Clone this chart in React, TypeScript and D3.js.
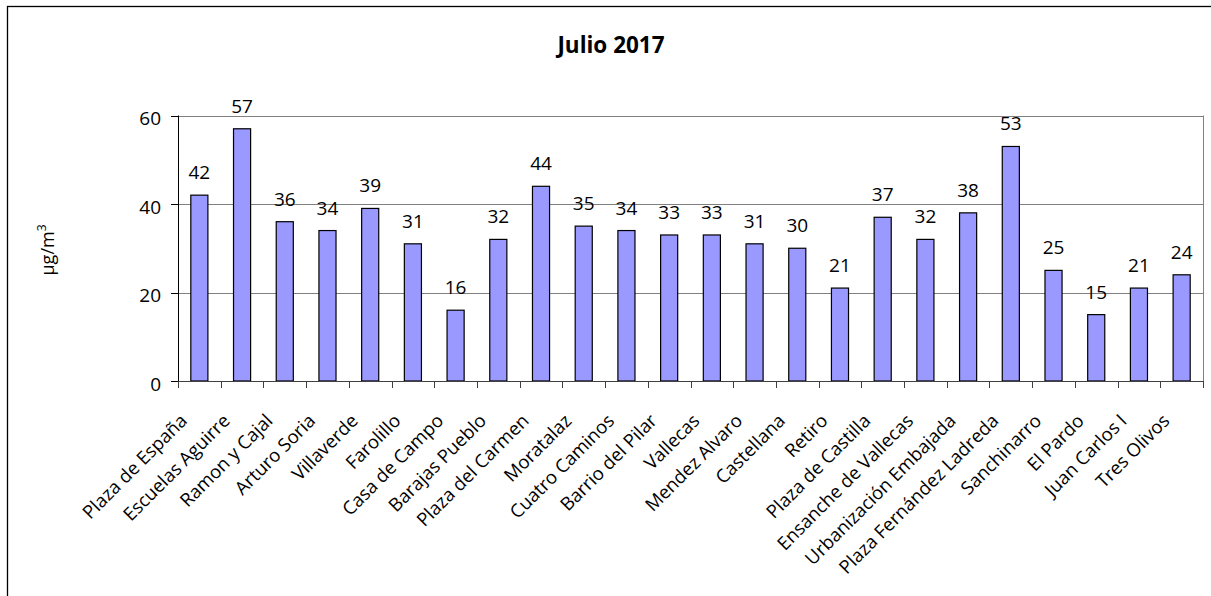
import { useEffect, useRef } from "react";
import * as d3 from "d3";

const estaciones = [
    "Plaza de España", "Escuelas Aguirre", "Ramon y Cajal", "Arturo Soria", "Villaverde",
    "Farolillo", "Casa de Campo", "Barajas Pueblo", "Plaza del Carmen", "Moratalaz",
    "Cuatro Caminos", "Barrio del Pilar", "Vallecas", "Mendez Alvaro", "Castellana",
    "Retiro", "Plaza de Castilla", "Ensanche de Vallecas", "Urbanización Embajada",
    "Plaza Fernández Ladreda", "Sanchinarro", "El Pardo", "Juan Carlos I", "Tres Olivos",
];
const valores = [42, 57, 36, 34, 39, 31, 16, 32, 44, 35, 34, 33, 33, 31, 30, 21, 37, 32, 38, 53, 25, 15, 21, 24];
const yTicks = [0, 20, 40, 60];
const titulo = "Julio 2017";

const W = 1211;
const H = 596;
const FONT = "'Open Sans', sans-serif";

export default function App() {
    const svgEl = useRef<SVGSVGElement>(null);

    useEffect(() => {
        const svg = d3.select(svgEl.current);
        svg.selectChildren().remove();

        const left = 178, right = 1203, top = 115.5, bottom = 381;

        const x = d3.scaleBand<string>()
            .domain(estaciones)
            .range([left, right])
            .paddingInner(0.6)
            .paddingOuter(0.3);
        const y = d3.scaleLinear().domain([0, 60]).range([bottom, top]);
        const step = x.step();

        // outer frame
        svg.append('rect')
            .attr('x', 7.5).attr('y', 6.5)
            .attr('width', W).attr('height', H)
            .attr('fill', 'white').attr('stroke', 'black').attr('stroke-width', 1.3);

        svg.append('text')
            .attr('x', 611).attr('y', 53)
            .attr('text-anchor', 'middle')
            .attr('font-family', FONT).attr('font-size', 22.5).attr('font-weight', 'bold')
            .text(titulo);

        // gridlines
        svg.append('g').selectAll('line').data(yTicks.filter(d => d > 0)).join('line')
            .attr('x1', left).attr('x2', right)
            .attr('y1', d => Math.round(y(d)) + 0.5).attr('y2', d => Math.round(y(d)) + 0.5)
            .attr('stroke', '#808080').attr('stroke-width', 1);
        // right border of plot
        svg.append('line')
            .attr('x1', right + 0.5).attr('x2', right + 0.5).attr('y1', top).attr('y2', bottom)
            .attr('stroke', '#808080');

        // bars
        svg.append('g').selectAll('rect').data(valores).join('rect')
            .attr('x', (_, i) => x(estaciones[i])!)
            .attr('y', d => y(d))
            .attr('width', x.bandwidth())
            .attr('height', d => bottom - y(d))
            .attr('fill', '#9999FF').attr('stroke', 'black').attr('stroke-width', 1.2);

        // value labels
        svg.append('g').selectAll('text').data(valores).join('text')
            .attr('x', (_, i) => x(estaciones[i])! + x.bandwidth() / 2)
            .attr('y', d => y(d) - 16)
            .attr('text-anchor', 'middle')
            .attr('font-family', FONT).attr('font-size', 19)
            .text(d => d);

        // y axis
        svg.append('line')
            .attr('x1', left + 0.5).attr('x2', left + 0.5).attr('y1', top).attr('y2', bottom)
            .attr('stroke', 'black');
        svg.append('g').selectAll('line').data(yTicks).join('line')
            .attr('x1', left - 7).attr('x2', left)
            .attr('y1', d => Math.round(y(d)) + 0.5).attr('y2', d => Math.round(y(d)) + 0.5)
            .attr('stroke', 'black');
        svg.append('g').selectAll('text').data(yTicks).join('text')
            .attr('x', 161).attr('y', d => y(d) + 9.5)
            .attr('text-anchor', 'end')
            .attr('font-family', FONT).attr('font-size', 19)
            .text(d => d);

        // x axis
        svg.append('line')
            .attr('x1', left).attr('x2', right + 1).attr('y1', bottom + 0.5).attr('y2', bottom + 0.5)
            .attr('stroke', '#404040');
        const edges = d3.range(estaciones.length + 1).map(i => left + i * step);
        svg.append('g').selectAll('line').data(edges).join('line')
            .attr('x1', d => Math.round(d) + 0.5).attr('x2', d => Math.round(d) + 0.5)
            .attr('y1', bottom).attr('y2', bottom + 7)
            .attr('stroke', '#404040');
        svg.append('g').selectAll('text').data(estaciones).join('text')
            .attr('transform', d => `translate(${x(d)! + x.bandwidth() / 2 - 11},${bottom + 41}) rotate(-45)`)
            .attr('text-anchor', 'end')
            .attr('font-family', FONT).attr('font-size', 18.5)
            .text(d => d);

        // y axis title
        const yt = svg.append('text')
            .attr('transform', 'translate(54,250) rotate(-90)')
            .attr('text-anchor', 'middle')
            .attr('font-family', FONT).attr('font-size', 18);
        yt.append('tspan').text('µg/m');
        yt.append('tspan').attr('dy', -8).attr('font-size', 12).text('3');
    }, []);

    return <svg ref={svgEl} width={W} height={H}
        style={{ position: 'absolute', left: 0, top: 0 }}>
    </svg>
}
